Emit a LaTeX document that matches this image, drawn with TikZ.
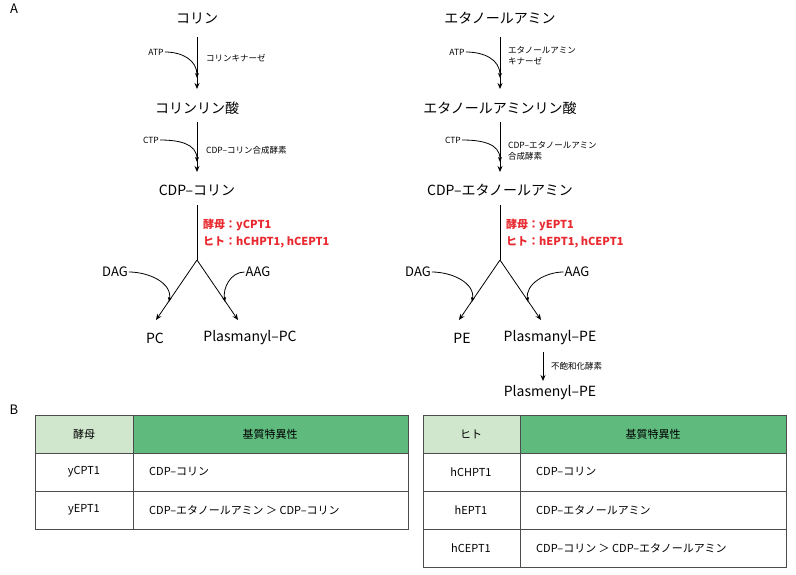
\documentclass[tikz,border=0pt]{standalone}
\usepackage{fontspec}
\setmainfont{Noto Sans CJK JP}
\usetikzlibrary{arrows.meta}
\definecolor{lg}{HTML}{D0E7CD}
\definecolor{dg}{HTML}{5EBA7D}
\definecolor{rd}{HTML}{E8292F}
\begin{document}
\begin{tikzpicture}[x=1pt,y=-1pt,
 big/.style={font=\fontsize{14}{15}\selectfont,inner sep=1pt},
 sm/.style={font=\fontsize{8.5}{11}\selectfont,inner sep=1pt,align=left},
 red/.style={font=\fontsize{11}{12}\selectfont\bfseries,text=rd,anchor=west,inner sep=1pt},
 ar/.style={-{Stealth[length=6pt,width=5pt]},line width=0.8pt},
 cv/.style={-{Stealth[length=5pt,width=4pt]},line width=0.8pt},
 cell/.style={draw=black!70,line width=0.8pt},
 tt/.style={font=\fontsize{11}{13}\selectfont,inner sep=1pt}]
\useasboundingbox (0,0) rectangle (796,574);
\node[font=\fontsize{13}{13}\selectfont] (A) at (14,9) {A};
\node[font=\fontsize{13}{13}\selectfont] (B) at (14,410) {B};
% left pathway
\node[big] (c1) at (197,18) {コリン};
\node[big] (c2) at (197,108) {コリンリン酸};
\node[big] (c3) at (197,190) {CDP–コリン};
\draw[ar] (197,37) -- (197,89);
\node[sm] (atp1) at (156,52) {ATP};
\draw[cv] (atp1.east) to[out=0,in=90,looseness=1.1] (197,78);
\node[sm,anchor=west] (k1) at (205,58) {コリンキナーゼ};
\draw[ar] (197,122) -- (197,172);
\node[sm] (ctp1) at (151,140) {CTP};
\draw[cv] (ctp1.east) to[out=0,in=90,looseness=1.1] (197,162);
\node[sm,anchor=west] (k2) at (205,150) {CDP–コリン合成酵素};
\coordinate (b1) at (197,260);
\draw[line width=0.8pt] (197,205) -- (b1);
\node[red] (r1) at (202,225) {酵母：yCPT1};
\node[red] (r2) at (202,242) {ヒト：hCHPT1, hCEPT1};
\coordinate (e1) at (156,320);
\coordinate (e2) at (238,320);
\draw[ar] (b1) -- (e1);
\draw[ar] (b1) -- (e2);
\node[big,font=\fontsize{13}{14}\selectfont] (dag1) at (115,272) {DAG};
\node[big,font=\fontsize{13}{14}\selectfont] (aag1) at (258,272) {AAG};
\draw[cv] (dag1.east) to[out=0,in=80] (169,302);
\draw[cv] (aag1.west) to[out=180,in=100] (225,302);
\node[big] (pc) at (155,338) {PC};
\node[big] (ppc) at (250,338) {Plasmanyl–PC};
% right pathway
\node[big] (d1) at (500,18) {エタノールアミン};
\node[big] (d2) at (500,108) {エタノールアミンリン酸};
\node[big] (d3) at (500,190) {CDP–エタノールアミン};
\draw[ar] (500,37) -- (500,89);
\node[sm] (atp2) at (457,52) {ATP};
\draw[cv] (atp2.east) to[out=0,in=90,looseness=1.1] (500,78);
\node[sm,anchor=west] (k3) at (507,56) {エタノールアミン\\キナーゼ};
\draw[ar] (500,122) -- (500,172);
\node[sm] (ctp2) at (453,140) {CTP};
\draw[cv] (ctp2.east) to[out=0,in=90,looseness=1.1] (500,162);
\node[sm,anchor=west] (k4) at (507,151) {CDP–エタノールアミン\\合成酵素};
\coordinate (b2) at (500,260);
\draw[line width=0.8pt] (500,205) -- (b2);
\node[red] (r3) at (505,225) {酵母：yEPT1};
\node[red] (r4) at (505,242) {ヒト：hEPT1, hCEPT1};
\coordinate (e3) at (459,320);
\coordinate (e4) at (541,320);
\draw[ar] (b2) -- (e3);
\draw[ar] (b2) -- (e4);
\node[big,font=\fontsize{13}{14}\selectfont] (dag2) at (418,272) {DAG};
\node[big,font=\fontsize{13}{14}\selectfont] (aag2) at (577,272) {AAG};
\draw[cv] (dag2.east) to[out=0,in=80] (472,302);
\draw[cv] (aag2.west) to[out=180,in=100] (528,302);
\node[big] (pe) at (462,338) {PE};
\node[big] (ppe) at (550,338) {Plasmanyl–PE};
\draw[ar] (543,352) -- (543,381);
\node[sm,anchor=west] (k5) at (550,366) {不飽和化酵素};
\node[big] (ple) at (550,393) {Plasmenyl–PE};
% left table
\fill[lg] (35,415) rectangle (133,453);
\fill[dg] (133,415) rectangle (408,453);
\draw[cell] (35,415) rectangle (408,529);
\draw[cell] (133,415) -- (133,529);
\draw[cell] (35,453) -- (408,453);
\draw[cell] (35,491) -- (408,491);
\node[tt] (h1) at (84,434) {酵母};
\node[tt] (h2) at (270,434) {基質特異性};
\node[tt] (t1) at (84,472) {yCPT1};
\node[tt,anchor=west] (t2) at (148,472) {CDP–コリン};
\node[tt] (t3) at (84,510) {yEPT1};
\node[tt,anchor=west] (t4) at (148,510) {CDP–エタノールアミン ＞ CDP–コリン};
% right table
\fill[lg] (423,415) rectangle (520,453);
\fill[dg] (520,415) rectangle (786,453);
\draw[cell] (423,415) rectangle (786,567);
\draw[cell] (520,415) -- (520,567);
\draw[cell] (423,453) -- (786,453);
\draw[cell] (423,491) -- (786,491);
\draw[cell] (423,529) -- (786,529);
\node[tt] (h3) at (471,434) {ヒト};
\node[tt] (h4) at (653,434) {基質特異性};
\node[tt] (u1) at (471,472) {hCHPT1};
\node[tt,anchor=west] (u2) at (535,472) {CDP–コリン};
\node[tt] (u3) at (471,510) {hEPT1};
\node[tt,anchor=west] (u4) at (535,510) {CDP–エタノールアミン};
\node[tt] (u5) at (471,548) {hCEPT1};
\node[tt,anchor=west] (u6) at (535,548) {CDP–コリン ＞ CDP–エタノールアミン};
\end{tikzpicture}
\end{document}
